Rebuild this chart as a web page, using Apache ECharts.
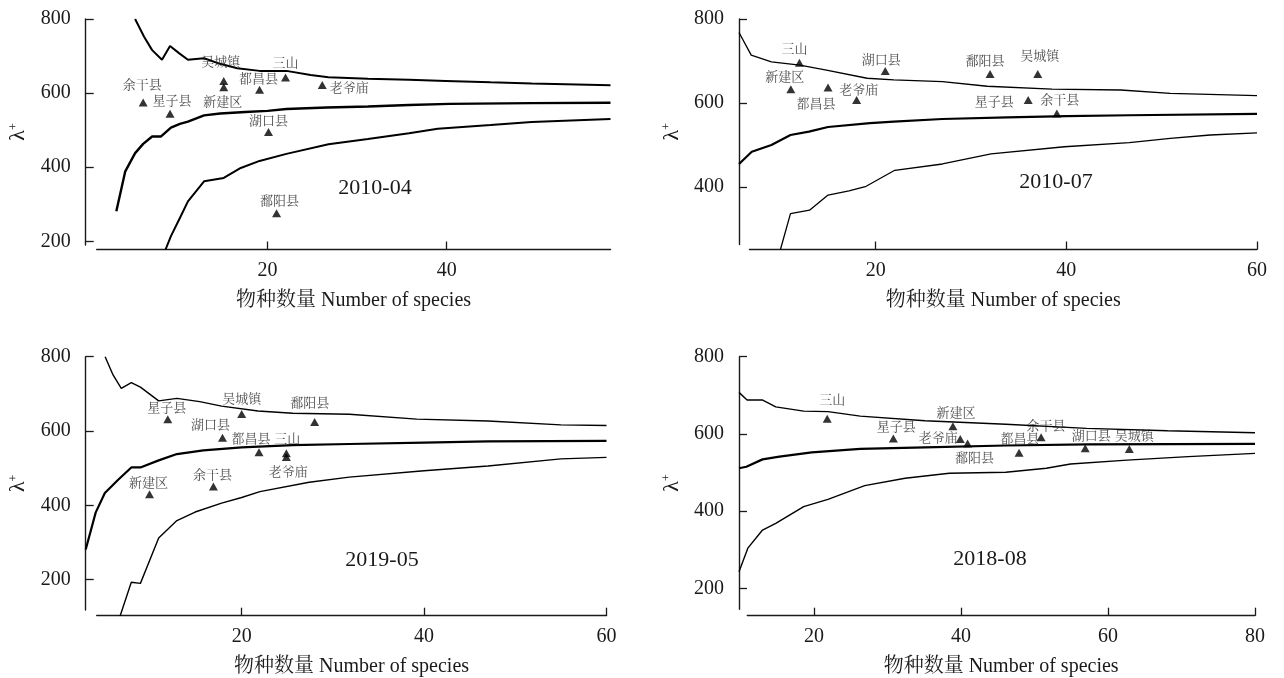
<!DOCTYPE html>
<html><head><meta charset="utf-8">
<script src="https://cdn.jsdelivr.net/npm/echarts@6/dist/echarts.min.js"></script>
<style>html,body{margin:0;padding:0;background:#fff}#c{width:1284px;height:678px}</style>
</head><body><div id="c"></div>
<script>
// ---------- tick labels & texts ----------
const xTicks1 = [20, 40];
const xTicks2 = [20, 40, 60];
const xTicks3 = [20, 40, 60];
const xTicks4 = [20, 40, 60, 80];
const yTicks = [200, 400, 600, 800];
const xAxisTitle = '物种数量 Number of species';
const panelDates = ['2010-04', '2010-07', '2019-05', '2018-08'];

// ---------- panel 1 : 2010-04 ----------
const p1Upper = [[5.2,800],[6.2,752],[7.1,716],[8.2,690],[9.1,727],[10.1,708],[11.1,690],[12.9,694],[14.7,679],[16.6,667],[19.1,660],[22.1,660],[24.8,649],[26.8,643],[31.2,639],[35.8,636],[39.9,633],[44.9,629],[49.5,626],[58.3,621]];
const p1Mean = [[3.1,281],[4.1,389],[5.2,438],[6.1,463],[7.1,483],[8.1,483],[9.2,507],[10.2,517],[11.1,523],[12.9,540],[14.7,545],[17.5,549],[20,552],[22.1,557],[26.6,561],[31.2,564],[35.8,568],[40.3,571],[49.5,573],[58.3,574]];
const p1Lower = [[8.6,178],[9.2,214],[10.2,263],[11.1,308],[12.0,335],[12.9,362],[15.1,371],[17.0,398],[19.1,417],[22.1,436],[26.8,462],[31.2,476],[35.8,492],[39.0,504],[44.9,514],[49.5,522],[58.3,530]];
const p1Sites = ['余干县','星子县','吴城镇','新建区','都昌县','三山','老爷庙','湖口县','鄱阳县'];
const p1Species = [6.1, 9.1, 15.1, 15.1, 19.1, 22.0, 26.1, 20.1, 21.0];
const p1Lambda = [575, 544, 633, 616, 609, 642, 622, 495, 276];

// ---------- panel 2 : 2010-07 ----------
const p2Upper = [[5.66,768],[6.94,714],[9.06,698],[12.04,690],[14.7,679],[19.1,659],[21.9,655],[27.0,651],[31.7,640],[38.5,633],[45.7,631],[50.9,623],[60,617.5]];
const p2Mean = [[5.66,455],[7.0,484],[9.06,500],[11.06,524],[13.0,532],[15.0,543],[19.4,552],[21.9,556],[27.0,562],[33.8,566],[40,569],[46.6,571],[60,574]];
const p2Lower = [[10.0,251],[11.06,337],[13.06,345],[15.0,381],[17.2,391],[19.0,402],[22.0,440],[27.0,455],[32.1,479],[39.8,496],[46.6,506],[50.9,516],[55.1,524],[60,529]];
const p2Sites = ['三山','新建区','都昌县','老爷庙','湖口县','鄱阳县','吴城镇','星子县','余干县'];
const p2Species = [12.0, 11.1, 15.0, 18.0, 21.0, 32.0, 37.0, 36.0, 39.0];
const p2Lambda = [696, 633, 637, 607, 676, 669, 669, 607, 575];

// ---------- panel 3 : 2019-05 ----------
const p3Upper = [[5.03,800],[5.9,751],[6.8,715],[7.9,730],[8.9,718],[10.9,681],[12.9,688],[15.4,679],[17.8,667],[21.8,654],[25.6,648],[31.8,645],[39.2,632],[47.0,627],[55.0,616.5],[60,615]];
const p3Mean = [[2.9,281],[4.0,381],[5.0,433],[6.46,469],[7.9,502],[8.9,502],[10.9,521],[12.9,538],[15.8,548],[20,556],[25.6,562],[31.8,565],[40,569],[47.0,572],[60,573.5]];
const p3Lower = [[6.68,103],[7.9,193],[8.9,190],[10.9,312],[12.9,359],[14.9,382],[17.8,406],[20,421],[22.0,437],[27.4,462],[31.8,476],[40,493],[47.0,506],[55.0,525],[60,529]];
const p3Sites = ['星子县','吴城镇','鄱阳县','湖口县','都昌县','三山','老爷庙','新建区','余干县'];
const p3Species = [11.9, 20.0, 28.0, 17.9, 21.9, 24.9, 24.9, 9.9, 16.9];
const p3Lambda = [632, 646, 624, 582, 543, 540, 530, 430, 451];

// ---------- panel 4 : 2018-08 ----------
const p4Upper = [[9.8,707.6],[10.9,688],[12.96,688],[14.8,670],[18.6,659],[21.9,657.6],[26.3,646],[35.1,634],[46.1,625],[57.1,614.4],[68.1,608],[80,603]];
const p4Mean = [[9.8,511],[10.8,515],[13.0,534],[15.3,541],[19.7,552],[26.3,561],[35.1,565],[46.1,570],[57.1,573],[80,574]];
const p4Lower = [[9.8,243],[11.0,304],[13.0,351],[14.8,368],[18.6,411.5],[21.9,430.5],[26.9,466],[32.4,485],[38.4,498],[46.1,500.5],[51.6,511],[54.9,522],[62.6,532],[70.9,541],[80,549.6]];
const p4Sites = ['三山','星子县','新建区','老爷庙','鄱阳县','都昌县','余干县','湖口县','吴城镇'];
const p4Species = [21.8, 30.8, 38.9, 39.9, 40.9, 47.9, 50.9, 56.9, 62.9];
const p4Lambda = [639, 588, 620, 587, 575, 551, 591, 563, 561];

// ---------- layout (pixels, styles) ----------
const labelOffsets = [
  [[-1,-17],[2,-12],[-3,-18],[-1,15],[-1,-10],[0,-14],[27,4],[0,-10],[3,-12]],
  [[-5,-13],[-6,-12],[-12,17],[2,-10],[-4,-11],[-5,-12],[2,-17],[-34,2],[3,-13]],
  [[-1,-11],[0,-14],[-5,-19],[-12,-12],[-8,-13],[1,-14],[2,16],[-1,-11],[-1,-11]],
  [[5,-18],[3,-11],[3,-13],[-22,0],[7,15],[1,-13],[5,-11],[6,-12],[5,-12]]
];
const layouts = [
  {yAxisX:85.7, xEnd:610.5, top:19,    axisY:249.5, xMin:-0.32, xMax:58.3, yMin:178, yMax:800, gapX:11,  gapY:4.5, thin:2.0, thick:2.4, dateX:375, dateY:188},
  {yAxisX:739,  xEnd:1257,  top:19,    axisY:249.5, xMin:5.66,  xMax:60,   yMin:251.5, yMax:800, gapX:10.5,gapY:5, thin:1.3, thick:2.2, dateX:1056, dateY:182},
  {yAxisX:85.7, xEnd:606.5, top:356.7, axisY:615.7, xMin:2.9,   xMax:60,   yMin:103, yMax:800, gapX:11,  gapY:5.7, thin:1.4, thick:2.2, dateX:382, dateY:560},
  {yAxisX:739,  xEnd:1255,  top:356.7, axisY:615.7, xMin:9.8,   xMax:80,   yMin:129, yMax:800, gapX:8.3, gapY:6.4, thin:1.4, thick:2.2, dateX:990, dateY:559}
];

const panels = [
  {upper:p1Upper, mean:p1Mean, lower:p1Lower, sites:p1Sites, xs:p1Species, ys:p1Lambda, xt:xTicks1},
  {upper:p2Upper, mean:p2Mean, lower:p2Lower, sites:p2Sites, xs:p2Species, ys:p2Lambda, xt:xTicks2},
  {upper:p3Upper, mean:p3Mean, lower:p3Lower, sites:p3Sites, xs:p3Species, ys:p3Lambda, xt:xTicks3},
  {upper:p4Upper, mean:p4Mean, lower:p4Lower, sites:p4Sites, xs:p4Species, ys:p4Lambda, xt:xTicks4}
];

const SERIF = '"Liberation Serif", "Times New Roman", "Noto Serif CJK SC", "Noto Sans CJK SC", serif';
const INK = '#1a1a1a';

const grid = [], xAxis = [], yAxis = [], series = [], graphic = [];
panels.forEach((P, i) => {
  const L = layouts[i];
  const pxX = (L.xEnd - L.yAxisX) / (L.xMax - L.xMin);
  const pxY = (L.axisY - L.top) / (L.yMax - L.yMin);
  // plot (clip) grid
  grid.push({left: L.yAxisX, top: L.top, width: L.xEnd - L.yAxisX, height: L.axisY - L.top, containLabel: false});
  // axes grid (slightly inset, axes offset back)
  grid.push({left: L.yAxisX + L.gapX, top: L.top, width: L.xEnd - L.yAxisX - L.gapX, height: L.axisY - L.gapY - L.top, containLabel: false});
  const ga = 2 * i, gb = 2 * i + 1;
  xAxis.push({type:'value', gridIndex: ga, min: L.xMin, max: L.xMax, show: false});
  yAxis.push({type:'value', gridIndex: ga, min: L.yMin, max: L.yMax, show: false});
  xAxis.push({
    type:'value', gridIndex: gb, min: L.xMin + L.gapX / pxX, max: L.xMax, offset: L.gapY,
    axisLine:{show:true, onZero:false, lineStyle:{color:INK, width:1.4}},
    axisTick:{show:true, inside:true, length:8, customValues: P.xt, lineStyle:{color:INK, width:1.3}},
    axisLabel:{show:true, margin:11, customValues: P.xt, fontSize:20, fontFamily:SERIF, color:INK},
    splitLine:{show:false},
    name: xAxisTitle, nameLocation:'middle', nameGap:41,
    nameTextStyle:{fontSize:20, fontFamily:SERIF, color:INK}
  });
  yAxis.push({
    type:'value', gridIndex: gb, min: L.yMin + L.gapY / pxY, max: L.yMax, offset: L.gapX,
    axisLine:{show:true, onZero:false, lineStyle:{color:INK, width:1.4}},
    axisTick:{show:true, inside:true, length:8, customValues: yTicks, lineStyle:{color:INK, width:1.3}},
    axisLabel:{show:true, margin:15, customValues: yTicks, fontSize:20, fontFamily:SERIF, color:INK},
    splitLine:{show:false},
    name:'{l|λ}{s|+}', nameLocation:'middle', nameGap:56, nameRotate:90,
    nameTextStyle:{rich:{l:{fontSize:22, fontFamily:SERIF, color:INK, verticalAlign:'bottom'}, s:{fontSize:12, fontFamily:SERIF, color:INK, verticalAlign:'top', padding:[0,0,10,0]}}}
  });
  const ax = {xAxisIndex: ga, yAxisIndex: ga};
  [[P.upper, L.thin], [P.mean, L.thick], [P.lower, L.thin]].forEach(([d, w]) => {
    series.push(Object.assign({type:'line', data:d, symbol:'none', clip:true, silent:true,
      lineStyle:{color:'#000', width:w}, z:2}, ax));
  });
  series.push(Object.assign({
    type:'scatter', symbol:'triangle', symbolSize:[9,8], z:3, silent:true,
    itemStyle:{color:'#000'},
    label:{show:true, position:'inside', formatter:'{b}', fontSize:13, fontFamily:SERIF, color:'#222'},
    data: P.sites.map((n, k) => ({name:n, value:[P.xs[k], P.ys[k]], label:{offset: labelOffsets[i][k]}}))
  }, ax));
  graphic.push({type:'text', x: L.dateX, y: L.dateY, style:{text: panelDates[i], fontSize:22, fontFamily:SERIF, fill:INK, textAlign:'center', textVerticalAlign:'middle'}});
});

const chart = echarts.init(document.getElementById('c'), null, {renderer:'canvas'});
chart.setOption({animation:false, backgroundColor:'#fff', grid, xAxis, yAxis, series, graphic});
</script>
</body></html>
